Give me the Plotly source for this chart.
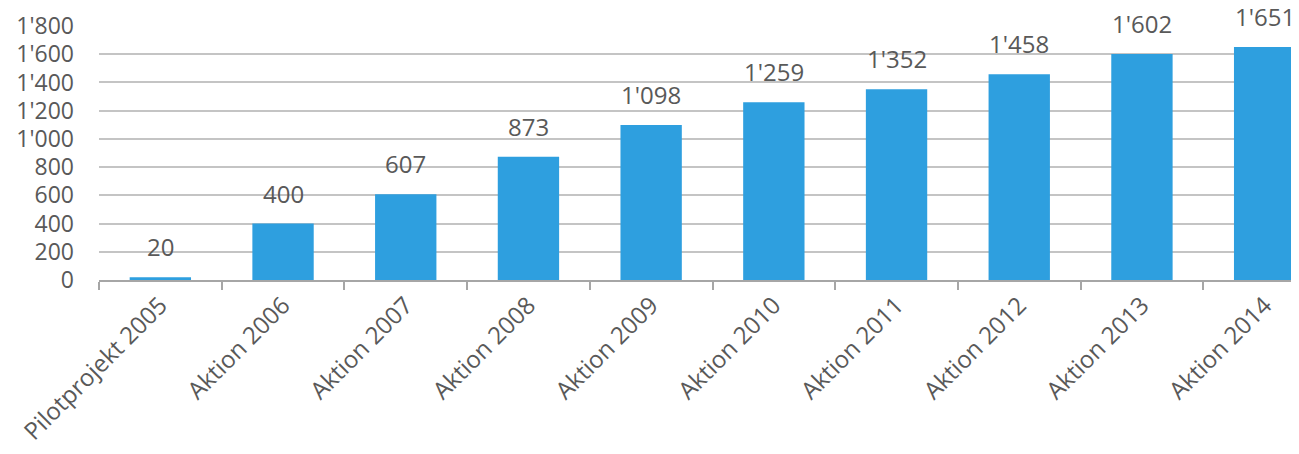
import plotly.graph_objects as go

categories = ["Pilotprojekt 2005", "Aktion 2006", "Aktion 2007", "Aktion 2008", "Aktion 2009",
              "Aktion 2010", "Aktion 2011", "Aktion 2012", "Aktion 2013", "Aktion 2014"]
values = [20, 400, 607, 873, 1098, 1259, 1352, 1458, 1602, 1651]
y_ticks = [0, 200, 400, 600, 800, 1000, 1200, 1400, 1600, 1800]

font_fam = "Open Sans, DejaVu Sans, sans-serif"
txt_col = "#595959"
fs = 23


def fmt(v):
    return f"{v:,}".replace(",", "'")


fig = go.Figure(go.Bar(
    x=categories, y=values,
    marker=dict(color="#2E9FDF", line=dict(width=0)),
    width=0.5,
    hoverinfo="x+y",
))

for c, v in zip(categories, values):
    fig.add_annotation(
        x=c, y=v, text=fmt(v), showarrow=False,
        xanchor="center", yanchor="bottom", yshift=12,
        font=dict(size=24, color=txt_col, family=font_fam),
    )

fig.update_layout(
    width=1291, height=446,
    margin=dict(l=91, r=0, t=18, b=174, autoexpand=False),
    paper_bgcolor="white", plot_bgcolor="white",
    separators=".'",
    showlegend=False,
    font=dict(family=font_fam, size=fs, color=txt_col),
)
fig.update_xaxes(
    range=[-0.5, 9.28],
    tickangle=-45,
    ticks="outside", tickson="boundaries", ticklen=8, tickcolor="#A6A6A6", tickwidth=1.5,
    showline=True, linecolor="#A6A6A6", linewidth=1.5,
    tickfont=dict(size=24, color=txt_col, family=font_fam),
    showgrid=False, automargin=False,
)
fig.update_yaxes(
    range=[0, 1800],
    tickvals=y_ticks,
    tickformat=",d",
    showgrid=True, gridcolor="#C4C4C4", gridwidth=1.5,
    zeroline=False,
    ticks="", ticklabelstandoff=24,
    tickfont=dict(size=fs, color=txt_col, family=font_fam),
    automargin=False,
)

fig.write_html("out.html")
